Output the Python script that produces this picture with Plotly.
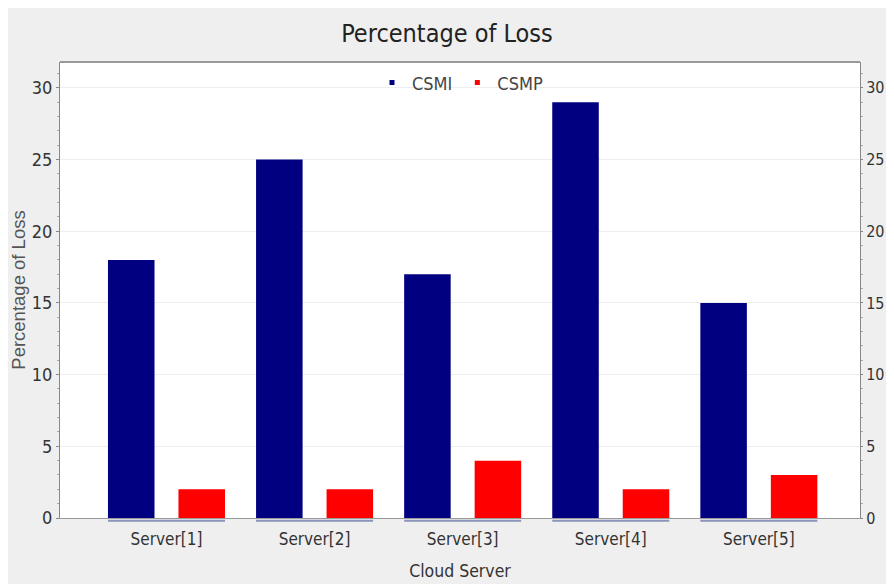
import plotly.graph_objects as go

categories = ["Server[1]", "Server[2]", "Server[3]", "Server[4]", "Server[5]"]
csmi = [18, 25, 17, 29, 15]
csmp = [2, 2, 4, 2, 3]
y_ticks = [0, 5, 10, 15, 20, 25, 30]

NARROW = "DejaVu Sans Condensed, Liberation Sans Narrow, sans-serif"
axis_font = dict(family=NARROW, size=18, color="#333333")

fig = go.Figure()
fig.add_trace(go.Bar(x=categories, y=csmi, name="CSMI", marker_color="#000080",
                     marker_line_width=0, showlegend=False))
fig.add_trace(go.Bar(x=categories, y=csmp, name="CSMP", marker_color="#ff0000",
                     marker_line_width=0, showlegend=False))
# legend entries with small square swatches
for name, col in [("CSMI", "#000080"), ("CSMP", "#ff0000")]:
    fig.add_trace(go.Scatter(x=[None], y=[None], mode="markers", name=name,
                             marker=dict(symbol="square", size=5, color=col)))
# invisible trace to activate the right-hand axis
fig.add_trace(go.Scatter(x=categories, y=csmi, yaxis="y2", mode="markers",
                         marker=dict(opacity=0), showlegend=False, hoverinfo="skip"))

# underline under each group
for i in range(len(categories)):
    fig.add_shape(type="line", xref="x", yref="paper", x0=i - 0.395, x1=i + 0.395,
                  y0=-0.006, y1=-0.006, line=dict(color="#8a93b8", width=2))

yrange = [0, 31.8]
fig.update_layout(
    width=878, height=576,
    paper_bgcolor="#efefef", plot_bgcolor="#ffffff",
    margin=dict(l=52, r=26, t=54, b=66, autoexpand=False),
    title=dict(text="Percentage of Loss", x=0.5, xanchor="center", y=0.957, yanchor="middle",
               font=dict(family=NARROW, size=25, color="#222222")),
    barmode="group", bargap=0.048, bargroupgap=0.34,
    legend=dict(orientation="h", x=0.5, xanchor="center", y=0.995, yanchor="top",
                bgcolor="rgba(0,0,0,0)", font=dict(family=NARROW, size=18, color="#444444"),
                itemwidth=30, tracegroupgap=0),
    xaxis=dict(range=[-0.719, 4.683], automargin=False, showgrid=False, showline=True,
               linecolor="#999999", linewidth=1, ticks="outside", ticklen=6,
               tickcolor="rgba(0,0,0,0)",
               tickfont=dict(family=NARROW, size=17, color="#333333"),
               title=dict(text="Cloud Server",
                          font=dict(family=NARROW, size=17.5, color="#333333"),
                          standoff=16)),
    yaxis=dict(range=yrange, tickvals=y_ticks, automargin=False, showgrid=True,
               gridcolor="#eeeeee", showline=True, linecolor="#888888", linewidth=1,
               ticks="outside", ticklen=3, tickcolor="#888888", tickfont=axis_font,
               zeroline=False,
               minor=dict(ticks="outside", ticklen=2, tickcolor="#aaaaaa", dtick=1),
               title=dict(text="Percentage of Loss",
                          font=dict(family="Liberation Sans, Arial, sans-serif", size=18.5,
                                    color="#555555"), standoff=18)),
    yaxis2=dict(range=yrange, tickvals=y_ticks, automargin=False, overlaying="y",
                side="right", showgrid=False, showline=True, linecolor="#888888",
                linewidth=1, ticks="outside", ticklen=2, tickcolor="#888888",
                tickfont=dict(family=NARROW, size=16, color="#333333"), zeroline=False,
                minor=dict(ticks="outside", ticklen=2, tickcolor="#aaaaaa", dtick=1)),
)
# top border of plot area
fig.add_shape(type="line", xref="paper", yref="paper", x0=0, x1=1, y0=1, y1=1,
              line=dict(color="#999999", width=2))

fig.write_html("out.html")
